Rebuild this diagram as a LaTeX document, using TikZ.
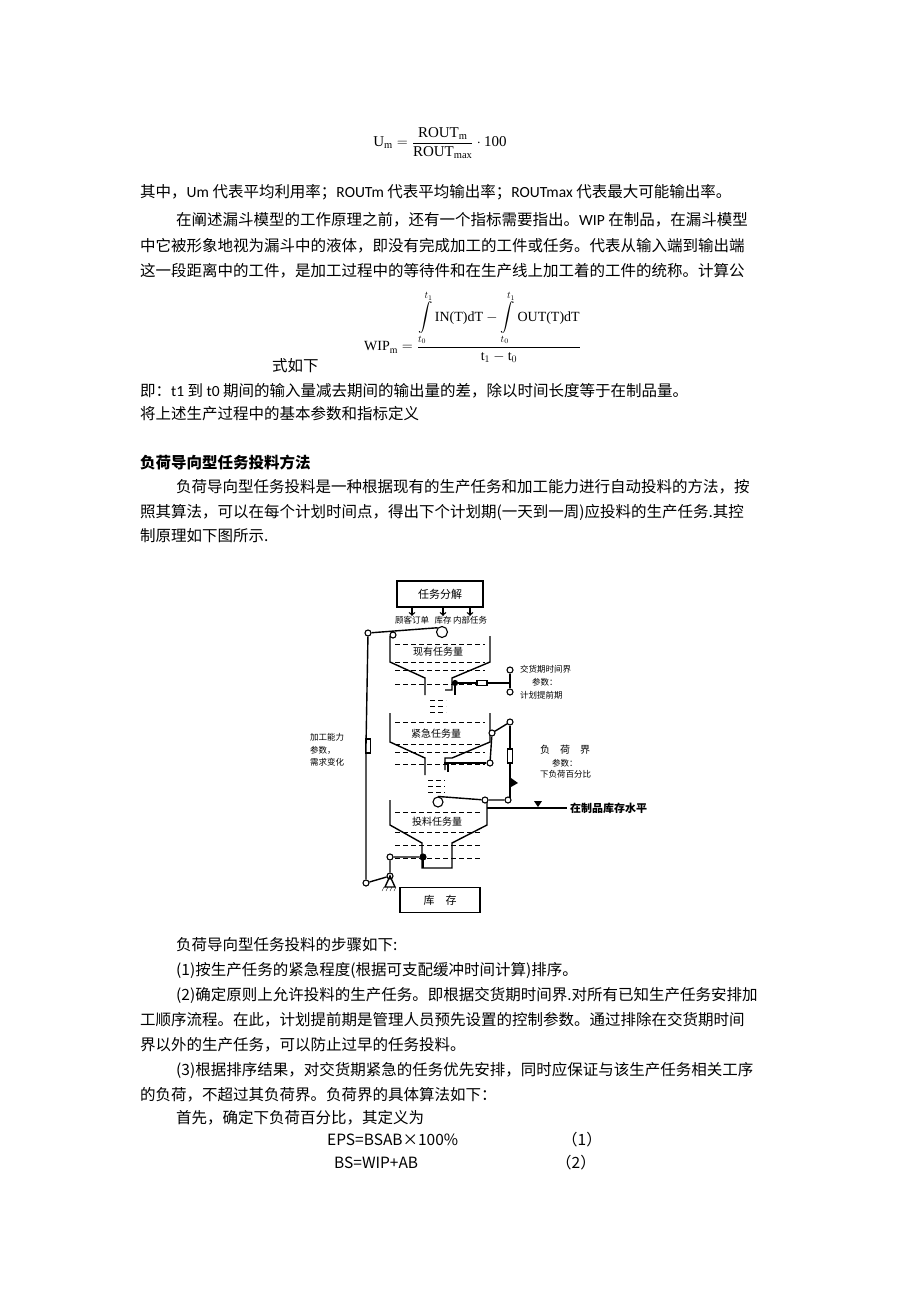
\documentclass[tikz,border=0pt]{standalone}
\usepackage{amsmath}
\usepackage{fontspec}
\setmainfont{Noto Sans CJK SC}
\newfontfamily\lat{Carlito}
\newfontfamily\tms{Liberation Serif}
\newcommand{\tm}[1]{\text{\tms #1}}
\begin{document}
\begin{tikzpicture}[x=1pt,y=-1pt,
 txt/.style={anchor=west,inner sep=0pt,font=\fontsize{15.5}{18}\selectfont},
 lab/.style={inner sep=0pt,font=\fontsize{8.5}{9}\selectfont},
 ln/.style={line width=1.4pt},
 pv/.style={circle,draw,line width=1.1pt,fill=white,inner sep=0pt,minimum size=6pt},
 liq/.style={dashed,line width=1pt,dash pattern=on 5pt off 3pt}]
\useasboundingbox (0,0) rectangle (920,1302);
% formula 1
\node[inner sep=0pt,font=\fontsize{15}{18}\selectfont] (f1) at (440,143) {$\tm{U}_{\tm{m}}=\dfrac{\tm{ROUT}_{\tm{m}}}{\tm{ROUT}_{\tm{max}}}\cdot\tm{100}$};
\node[txt] (l1) at (140,192) {其中，{\lat Um} 代表平均利用率；{\lat ROUTm} 代表平均输出率；{\lat ROUTmax} 代表最大可能输出率。};
\node[txt] (l2) at (176,220) {在阐述漏斗模型的工作原理之前，还有一个指标需要指出。{\lat WIP} 在制品，在漏斗模型};
\node[txt] (l3) at (140,246) {中它被形象地视为漏斗中的液体，即没有完成加工的工件或任务。代表从输入端到输出端};
\node[txt] (l4) at (140,271) {这一段距离中的工件，是加工过程中的等待件和在生产线上加工着的工件的统称。计算公};
\node[inner sep=0pt,anchor=west,font=\fontsize{14}{17}\selectfont] (f2) at (364,327) {$\tm{WIP}_{\tm{m}}=\dfrac{\displaystyle\int\limits_{t_0}^{t_1}\tm{IN(T)dT}-\int\limits_{t_0}^{t_1}\tm{OUT(T)dT}}{\tm{t}_1-\tm{t}_0}$};
\node[txt] (l5) at (272,366) {式如下};
\node[txt] (l6) at (140,391) {即：{\lat t1} 到 {\lat t0} 期间的输入量减去期间的输出量的差，除以时间长度等于在制品量。};
\node[txt] (l7) at (140,414) {将上述生产过程中的基本参数和指标定义};
\node[txt,font=\fontsize{15.5}{18}\selectfont\bfseries] (h1) at (140,463) {负荷导向型任务投料方法};
\node[txt] (l8) at (176,487) {负荷导向型任务投料是一种根据现有的生产任务和加工能力进行自动投料的方法，按};
\node[txt] (l9) at (140,512) {照其算法，可以在每个计划时间点，得出下个计划期(一天到一周)应投料的生产任务.其控};
\node[txt] (l10) at (140,536) {制原理如下图所示.};
% ---- diagram ----
\node[draw,ln,minimum width=86pt,minimum height=26pt,lab,font=\fontsize{11}{11}\selectfont] (box1) at (440,594) {任务分解};
\node[lab] (t1) at (412,620) {顾客订单};
\node[lab] (t2) at (443,620) {库存};
\node[lab] (t3) at (470,620) {内部任务};
\draw[ln,->] (box1.south -| t1) -- (t1.north);
\draw[ln,->] (box1.south -| t2) -- (t2.north);
\draw[ln,->] (box1.south -| t3) -- (t3.north);
% hopper 1
\draw[ln] (390,636) -- (390,662) -- (425,678) -- (425,695);
\draw[ln] (490,636) -- (490,662) -- (452,678) -- (452,690) -- (445,690);
\foreach \y in {644,662,670,684} \draw[liq] (395,\y) -- (485,\y);
\foreach \y in {700,706,712} \draw[liq] (430,\y) -- (446,\y);
\node[lab,fill=white,font=\fontsize{10}{10}\selectfont] (n1) at (438,652) {现有任务量};
\coordinate (lp) at (368,633);
\node[pv] (c0) at (lp) {};
\node[pv] (c1) at (393,635) {};
\node[pv,minimum size=11pt] (r1) at (442,632) {};
\draw[ln] (c0) -- (r1.north west);
% valve 1
\node[pv,fill=black,minimum size=5pt] (v1) at (455,683) {};
\draw[ln] (v1) -- (510,683);
\draw[ln] (455,683) -- (455,695);
\node[draw,ln,minimum width=10pt,minimum height=5pt,inner sep=0pt,fill=white] (vb1) at (482,683) {};
\node[pv] (c2) at (510,670) {};
\node[pv] (c3) at (510,692) {};
\draw[ln] (c2) -- (c3);
\node[lab,anchor=west] (a1) at (520,669) {交货期时间界};
\node[lab,anchor=west] (a2) at (532,682) {参数：};
\node[lab,anchor=west] (a3) at (520,695) {计划提前期};
% hopper 2
\draw[ln] (390,713) -- (390,742) -- (425,758) -- (425,775);
\draw[ln] (490,713) -- (490,742) -- (452,758) -- (445,758) -- (445,770);
\foreach \y in {722,744,752,764} \draw[liq] (395,\y) -- (485,\y);
\foreach \y in {780,786,792} \draw[liq] (428,\y) -- (445,\y);
\node[lab,fill=white,font=\fontsize{10}{10}\selectfont] (n2) at (436,734) {紧急任务量};
\node[pv] (c4) at (492,733) {};
\node[pv] (c5) at (510,722) {};
\draw[ln] (c4) -- (c5);
\draw[ln] (c5) -- (510,800);
\draw[ln] (c4) -- (490,763);
\node[pv] (c6) at (490,763) {};
\draw[ln] (c6) -- (450,763);
\draw[ln] (448,763) -- (448,772) (444,763) -- (453,763);
\node[draw,ln,minimum width=5pt,minimum height=14pt,inner sep=0pt,fill=white] (vb2) at (510,756) {};
\fill (511,778) -- (518,783) -- (511,787) -- cycle;
\node[lab,anchor=west,font=\fontsize{10}{10}\selectfont] (b1) at (540,750) {负\quad 荷\quad 界};
\node[lab,anchor=west] (b2) at (552,763) {参数：};
\node[lab,anchor=west] (b3) at (540,774) {下负荷百分比};
% left valve
\node[draw,ln,minimum width=5pt,minimum height=14pt,inner sep=0pt,fill=white] (vb3) at (368,746) {};
\node[lab,anchor=west] (d1) at (310,737) {加工能力};
\node[lab,anchor=west] (d2) at (310,750) {参数，};
\node[lab,anchor=west] (d3) at (310,762) {需求变化};
% hopper 3
\draw[ln] (390,800) -- (390,825) -- (422,843) -- (422,868) -- (452,868) -- (452,843) -- (487,825) -- (487,800);
\foreach \y in {812,832,845,858} \draw[liq] (395,\y) -- (482,\y);
\node[lab,fill=white,font=\fontsize{10}{10}\selectfont] (n3) at (437,822) {投料任务量};
\node[pv,minimum size=10pt] (r3) at (438,802) {};
\node[pv] (c7) at (485,800) {};
\node[pv] (c8) at (508,800) {};
\draw[ln] (r3.north) -- (c7) -- (c8);
\coordinate (wl) at (567,808);
\draw[ln] (487,808) -- (wl);
\fill (534,801) -- (542,801) -- (538,807) -- cycle;
\node[anchor=west,inner sep=0pt,font=\fontsize{11}{11}\selectfont\bfseries] (w) at (570,808) {在制品库存水平};
% bottom linkage
\node[pv,fill=black] (c9) at (423,857) {};
\node[pv] (c10) at (390,857) {};
\node[pv] (c11) at (390,876) {};
\node[pv] (c12) at (366,883) {};
\draw[ln] (c9) -- (c10) -- (c11) -- (c12);
\draw[ln] (423,857) -- (423,868);
\draw[ln] (c0) -- (366,746) -- (c12);
\draw[ln] (390,876) -- (385,887) -- (395,887) -- cycle;
\foreach \x in {382,386,390,394} \draw (\x+2,887) -- (\x,891);
\node[draw,ln,minimum width=80pt,minimum height=25pt,font=\fontsize{11}{11}\selectfont] (box2) at (440,900) {库\quad 存};
% ---- after diagram ----
\node[txt] (m1) at (176,945) {负荷导向型任务投料的步骤如下:};
\node[txt] (m2) at (176,970) {(1)按生产任务的紧急程度(根据可支配缓冲时间计算)排序。};
\node[txt] (m3) at (176,995) {(2)确定原则上允许投料的生产任务。即根据交货期时间界.对所有已知生产任务安排加};
\node[txt] (m4) at (140,1020) {工顺序流程。在此，计划提前期是管理人员预先设置的控制参数。通过排除在交货期时间};
\node[txt] (m5) at (140,1045) {界以外的生产任务，可以防止过早的任务投料。};
\node[txt] (m6) at (176,1070) {(3)根据排序结果，对交货期紧急的任务优先安排，同时应保证与该生产任务相关工序};
\node[txt] (m7) at (140,1095) {的负荷，不超过其负荷界。负荷界的具体算法如下：};
\node[txt] (m8) at (176,1118) {首先，确定下负荷百分比，其定义为};
\node[txt] (m9) at (327,1140) {EPS=BSAB×100\%};
\node[txt] (m10) at (562,1140) {（1）};
\node[txt] (m11) at (334,1163) {BS=WIP+AB};
\node[txt] (m12) at (556,1163) {（2）};
\end{tikzpicture}
\end{document}
